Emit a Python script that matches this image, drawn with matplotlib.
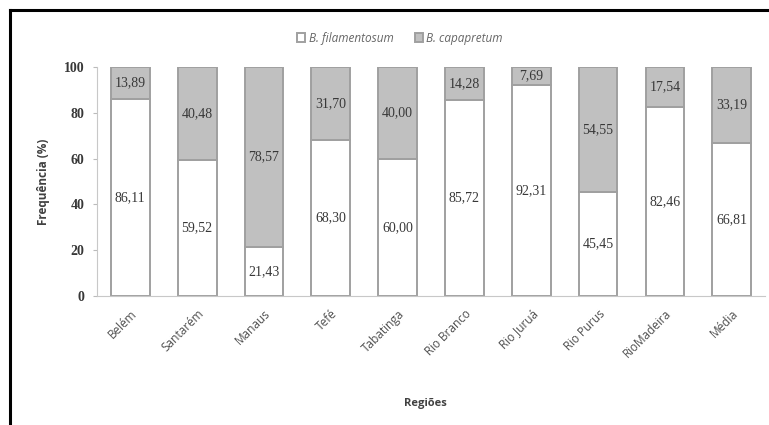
import matplotlib
matplotlib.use("Agg")
import matplotlib.pyplot as plt
import numpy as np
from matplotlib.lines import Line2D

# dados
regioes = ["Belém", "Santarém", "Manaus", "Tefé", "Tabatinga", "Rio Branco",
           "Rio Juruá", "Rio Purus", "RioMadeira", "Média"]
filamentosum = [86.11, 59.52, 21.43, 68.30, 60.00, 85.72, 92.31, 45.45, 82.46, 66.81]
capapretum = [13.89, 40.48, 78.57, 31.70, 40.00, 14.28, 7.69, 54.55, 17.54, 33.19]
yticks = [0, 20, 40, 60, 80, 100]

fig = plt.figure(figsize=(7.69, 4.25), dpi=100)
ax = fig.add_axes([0.126, 0.3035, 0.869, 0.539])

x = np.arange(len(regioes))
b1 = ax.bar(x, filamentosum, width=0.58, color="white", edgecolor="#a0a0a0", linewidth=1.4,
            label="B. filamentosum")
b2 = ax.bar(x, capapretum, width=0.58, bottom=filamentosum, color="#c0c0c0",
            edgecolor="#a0a0a0", linewidth=1.4, label="B. capapretum")

fmt = lambda v: ("%.2f" % v).replace(".", ",")
for bars in (b1, b2):
    ax.bar_label(bars, labels=[fmt(b.get_height()) for b in bars], label_type="center",
                 family="Liberation Serif", fontsize=10, color="#383838")

ax.set_xlim(-0.5, len(regioes) - 0.5)
ax.set_ylim(0, 100)
ax.set_yticks(yticks)
ax.set_yticklabels([str(t) for t in yticks], family="Liberation Serif", fontsize=10,
                   color="#383838", fontweight="bold")
ax.set_xticks(x)
ax.set_xticklabels(regioes, rotation=45, ha="right", rotation_mode="anchor",
                   family="Open Sans", fontsize=8.5, color="#505050")
ax.tick_params(axis="x", length=0, pad=8)
ax.tick_params(axis="y", length=3, color="#bbbbbb", pad=6)

for s in ("top", "right"):
    ax.spines[s].set_visible(False)
ax.spines["left"].set_color("#c8c8c8")
ax.spines["bottom"].set_color("#c8c8c8")

ax.set_ylabel("Frequência (%)", family="Open Sans", fontsize=8.5, fontweight="bold",
              color="#404040", labelpad=10)
fig.text(0.553, 0.045, "Regiões", family="Open Sans", fontsize=8, fontweight="bold",
         color="#404040", ha="center")

leg = fig.legend(handles=[b1, b2], loc="center", bbox_to_anchor=(0.52, 0.91), ncol=2,
                 frameon=False, handlelength=0.7, handleheight=0.7, handletextpad=0.3,
                 columnspacing=1.8, prop={"family": "Open Sans", "style": "italic", "size": 8.5})
for t in leg.get_texts():
    t.set_color("#666666")

# moldura
fig.add_artist(Line2D([10 / 769, 10 / 769], [0, 1 - 10 / 425], transform=fig.transFigure,
                      color="black", linewidth=2.2))
fig.add_artist(Line2D([10 / 769, 1], [1 - 10 / 425, 1 - 10 / 425], transform=fig.transFigure,
                      color="black", linewidth=2.2))

fig.savefig("out.png", dpi=100)
